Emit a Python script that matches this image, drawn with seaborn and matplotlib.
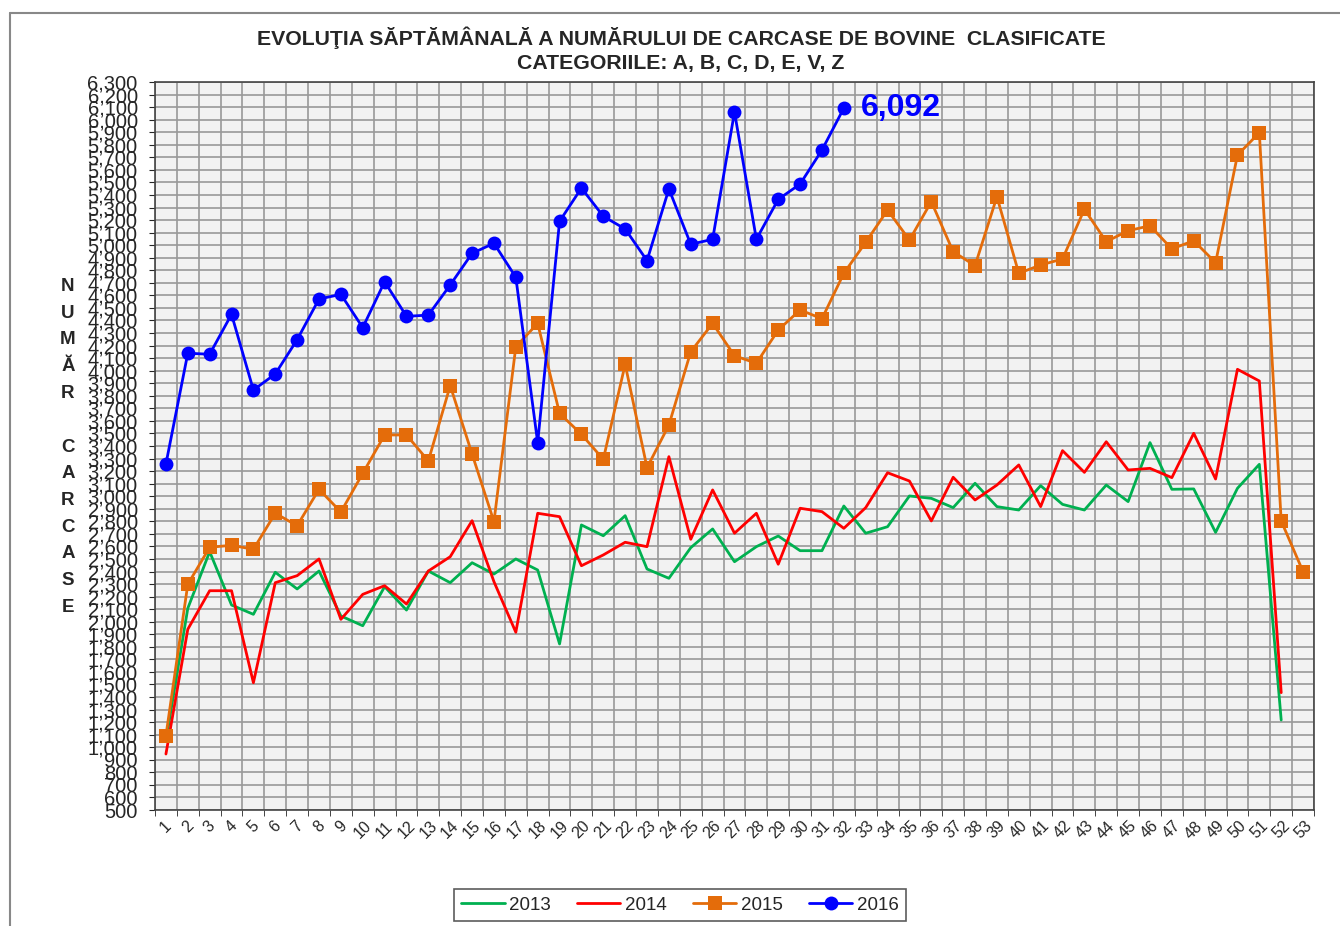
import numpy as np
import pandas as pd
import seaborn as sns
import matplotlib.pyplot as plt
from matplotlib.ticker import MultipleLocator, FuncFormatter
from matplotlib.lines import Line2D

weeks = list(range(1, 54))
years = ["2013", "2014", "2015", "2016"]

v2013 = [1050, 2107, 2558, 2133, 2059, 2394, 2261, 2404, 2046, 1968,
         2279, 2093, 2404, 2311, 2470, 2380, 2500, 2412, 1823, 2771,
         2685, 2845, 2420, 2346, 2590, 2739, 2478, 2598, 2683, 2566,
         2566, 2922, 2705, 2757, 3002, 2983, 2909, 3103, 2917, 2890,
         3084, 2935, 2890, 3089, 2957, 3427, 3055, 3058, 2712, 3063,
         3254, 1217]
v2014 = [946, 1940, 2247, 2247, 1514, 2311, 2367, 2500, 2019, 2218,
         2287, 2141, 2404, 2518, 2805, 2319, 1916, 2864, 2837, 2446,
         2532, 2633, 2598, 3315, 2657, 3050, 2705, 2864, 2458, 2904,
         2877, 2744, 2909, 3187, 3121, 2803, 3151, 2970, 3089, 3249,
         2917, 3363, 3190, 3434, 3209, 3222, 3148, 3501, 3137, 4011,
         3918, 1435]
v2015 = [1092, 2298, 2593, 2609, 2577, 2864, 2765, 3055, 2874, 3182,
         3488, 3488, 3281, 3881, 3336, 2797, 4191, 4377, 3660, 3493,
         3294, 4051, 3227, 3567, 4151, 4377, 4119, 4059, 4324, 4484,
         4414, 4776, 5023, 5280, 5041, 5347, 4948, 4837, 5386, 4776,
         4842, 4890, 5286, 5028, 5115, 5155, 4970, 5036, 4860, 5718,
         5896, 2803, 2399]
v2016 = [3257, 4139, 4131, 4449, 3846, 3974, 4247, 4571, 4608, 4343,
         4709, 4433, 4443, 4683, 4935, 5015, 4744, 3426, 5190, 5455,
         5230, 5129, 4877, 5448, 5007, 5047, 6061, 5047, 5365, 5487,
         5758, 6092]

series = [v2013, v2014, v2015, v2016]
colors = ["#00b050", "#ff0000", "#e46c0a", "#0000ff"]
markers = [None, None, "s", "o"]
msizes = [0, 0, 10, 10]

sns.set_style("ticks")
plt.rcParams["font.family"] = ["Liberation Sans", "DejaVu Sans"]

fig = plt.figure(figsize=(13.4, 9.26), dpi=100)
ax = fig.add_axes([155 / 1340, 1 - 810 / 926, (1314 - 155) / 1340, (810 - 82) / 926])
ax.set_facecolor("#f2f2f2")

handles = []
for yr, vals, c, m, ms in zip(years, series, colors, markers, msizes):
    df = pd.DataFrame({"week": weeks[:len(vals)], "val": vals})
    sns.lineplot(data=df, x="week", y="val", ax=ax, color=c, linewidth=2,
                 marker=m, markersize=ms, markeredgewidth=0, zorder=3)
    handles.append(Line2D([], [], color=c, linewidth=2, marker=m,
                          markersize=ms, markeredgewidth=0, label=yr))

ax.annotate("6,092", xy=(32, v2016[-1]), xytext=(12, 0), textcoords="offset points",
            color="#0000ff", fontsize=23, fontweight="bold", va="center", ha="left")

ax.set_xlim(0.5, 53.5)
ax.set_ylim(500, 6300)
ax.set_xticks(weeks)
ax.set_xticklabels([str(w) for w in weeks], rotation=45, fontsize=11.5)
ax.xaxis.set_minor_locator(MultipleLocator(1, offset=0.5))
ax.yaxis.set_major_locator(MultipleLocator(100))
ax.yaxis.set_major_formatter(FuncFormatter(lambda v, p: f"{int(v):,}"))
ax.tick_params(axis="y", labelsize=14.5, length=4.5, pad=8)
ax.tick_params(axis="x", which="major", length=0, pad=6)
ax.tick_params(axis="x", which="minor", length=4.5)
ax.grid(False)
ax.grid(True, axis="y", which="major", color="#999999", linewidth=1.2)
ax.grid(True, axis="x", which="minor", color="#999999", linewidth=1.2)
ax.set_axisbelow(True)
ax.set_xlabel("")
ax.set_ylabel("")
for s in ax.spines.values():
    s.set_visible(True)
    s.set_color("#444444")
    s.set_linewidth(1.2)

fig.text(681 / 1340, 1 - 38 / 926, "EVOLUŢIA SĂPTĂMÂNALĂ A NUMĂRULUI DE CARCASE DE BOVINE  CLASIFICATE",
         ha="center", va="center", fontsize=15.3, fontweight="bold")
fig.text(681 / 1340, 1 - 63 / 926, "CATEGORIILE: A, B, C, D, E, V, Z",
         ha="center", va="center", fontsize=15.3, fontweight="bold")

fig.text(68 / 1340, 1 - 447 / 926, "N\nU\nM\nĂ\nR\n\nC\nA\nR\nC\nA\nS\nE",
         ha="center", va="center", fontsize=13.5, fontweight="bold", linespacing=1.75)

leg = fig.legend(handles=handles, loc="center", ncol=4,
                 bbox_to_anchor=(680 / 1340, 1 - 905 / 926), fontsize=13.5,
                 frameon=True, fancybox=False, edgecolor="#333333",
                 handlelength=2.3, columnspacing=1.4, handletextpad=0.25,
                 borderpad=0.4, borderaxespad=0.2)
leg.get_frame().set_linewidth(1.2)

fig.add_artist(Line2D([10 / 1340, 10 / 1340], [0, 1 - 13 / 926], color="#888888", linewidth=1.5))
fig.add_artist(Line2D([10 / 1340, 1], [1 - 13 / 926, 1 - 13 / 926], color="#888888", linewidth=1.5))

fig.savefig("out.png", dpi=100)
